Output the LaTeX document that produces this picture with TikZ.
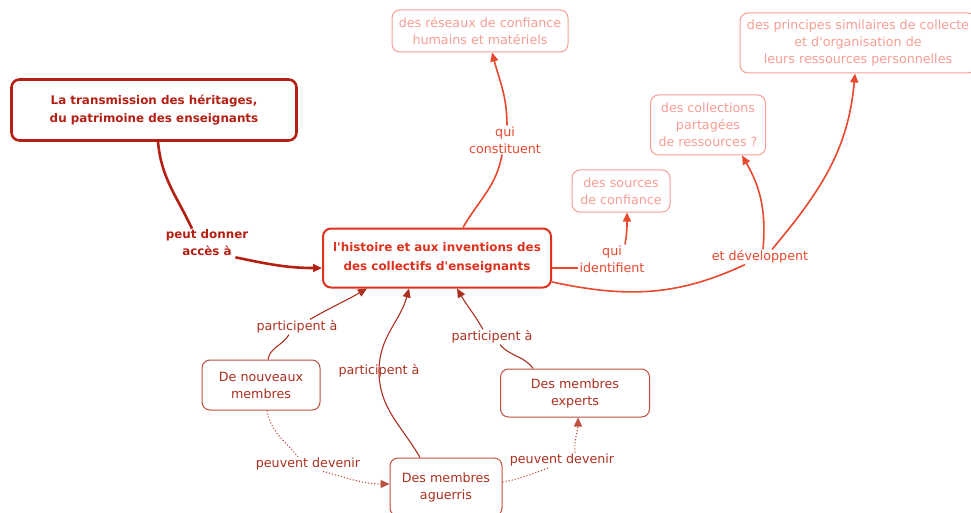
\documentclass[tikz,border=0pt]{standalone}
\usepackage{fontspec}
\setmainfont{DejaVu Sans}
\usetikzlibrary{arrows.meta}
\definecolor{heritred}{RGB}{180,32,20}
\definecolor{histred}{RGB}{222,50,30}
\definecolor{lightred}{RGB}{246,158,148}
\definecolor{linkred}{RGB}{232,72,45}
\definecolor{membred}{RGB}{172,48,32}
\definecolor{membline}{RGB}{190,78,62}
\begin{document}
\begin{tikzpicture}[x=1pt,y=-1pt,every node/.style={align=center,font=\fontsize{12.7}{17}\selectfont},
	concept/.style={draw,rounded corners=8pt,fill=white,inner sep=2pt},
	heritage/.style={concept,draw=heritred,text=heritred,line width=2.6pt,font=\fontsize{11.9}{18}\selectfont\bfseries},
	history/.style={concept,draw=histred,text=histred,line width=2pt,font=\fontsize{11.9}{19}\selectfont\bfseries},
	faint/.style={concept,draw=lightred,text=lightred,line width=1pt},
	member/.style={concept,draw=membline,text=membred,line width=1pt},
	label/.style={inner sep=1pt},
	tip/.style={-{Triangle[length=9pt,width=8pt]}},
	heritlink/.style={heritred,line width=2.6pt},
	uplink/.style={linkred,line width=1.6pt},
	memblink/.style={membred,line width=1.1pt},
	becomes/.style={membline,line width=1.1pt,dotted}]
	\useasboundingbox (0,0) rectangle (971,513);

	\node[heritage,minimum width=285pt,minimum height=61pt] at (154,110) (trans) {La transmission des héritages,\\du patrimoine des enseignants};
	\node[history,minimum width=228pt,minimum height=59pt] at (437,258) (hist) {l\textquotesingle histoire et aux inventions des\\des collectifs d\textquotesingle enseignants};
	\node[faint,minimum width=176pt,minimum height=42pt] at (480,31) (reseaux) {des réseaux de confiance\\humains et matériels};
	\node[faint,minimum width=98pt,minimum height=42pt] at (621,191) (sources) {des sources\\de confiance};
	\node[faint,minimum width=115pt,minimum height=60pt] at (708,125) (collec) {des collections\\partagées\\de ressources ?};
	\node[faint,minimum width=236pt,minimum height=60pt] at (858,43) (principes) {des principes similaires de collecte\\et d\textquotesingle organisation de\\leurs ressources personnelles};
	\node[member,minimum width=118pt,minimum height=50pt] at (261,385) (nouveaux) {De nouveaux\\membres};
	\node[member,minimum width=112pt,minimum height=58pt] at (446,487) (aguerris) {Des membres\\aguerris};
	\node[member,minimum width=149pt,minimum height=48pt] at (575,393) (experts) {Des membres\\experts};

	\node[label,text=heritred,font=\fontsize{11.9}{17}\selectfont\bfseries] at (207,243) (ldonner) {peut donner\\accès à};
	\node[label,text=linkred] at (505,140) (lconstit) {qui\\constituent};
	\node[label,text=linkred] at (612,259) (lident) {qui\\identifient};
	\node[label,text=linkred] at (760,257) (ldevel) {et développent};
	\node[label,text=membred] at (297,327) (lpart1) {participent à};
	\node[label,text=membred] at (379,371) (lpart2) {participent à};
	\node[label,text=membred] at (492,337) (lpart3) {participent à};
	\node[label,text=membred] at (308,464) (ldevenir1) {peuvent devenir};
	\node[label,text=membred] at (562,460) (ldevenir2) {peuvent devenir};

	\draw[heritlink]	([xshift=4pt]trans.south) to[out=-85,in=115] ([xshift=-15pt]ldonner.north);
	\draw[heritlink,tip]	([xshift=-14pt]ldonner.south east) to[out=-12,in=180] ([yshift=-10pt]hist.west);

	\draw[uplink]		([xshift=26pt]hist.north) to[out=60,in=-100] ([xshift=-3pt]lconstit.south);
	\draw[uplink,tip]	([xshift=2pt]lconstit.north) to[out=90,in=-75] ([xshift=12pt]reseaux.south);
	\draw[uplink]		([yshift=-10pt]hist.east) -- ([yshift=-9pt]lident.west);
	\draw[uplink,tip]	([xshift=13pt]lident.north) to[out=80,in=-90] ([xshift=6pt]sources.south);
	\draw[uplink]		([yshift=-24pt]hist.east) to[out=-12,in=205] ([xshift=-15pt]ldevel.south);
	\draw[uplink,tip]	([xshift=3pt]ldevel.north) to[out=85,in=-60] ([xshift=34pt]collec.south);
	\draw[uplink,tip]	([xshift=12pt]ldevel.north) to[out=50,in=-95] ([xshift=-3pt]principes.south);

	\draw[memblink]		([xshift=7pt]nouveaux.north) to[out=80,in=-120] ([xshift=-8pt]lpart1.south);
	\draw[memblink,tip]	([xshift=13pt]lpart1.north) to[out=30,in=-150] ([xshift=-70pt]hist.south);
	\draw[memblink,tip]	([xshift=-26pt]aguerris.north) to[out=120,in=-90] (lpart2.center) to[out=90,in=-105] ([xshift=-28pt]hist.south);
	\draw[memblink]		([xshift=-42pt]experts.north) to[out=125,in=-50] ([xshift=8pt]lpart3.south);
	\draw[memblink,tip]	([xshift=-9pt]lpart3.north) to[out=120,in=-60] ([xshift=20pt]hist.south);

	\draw[becomes]		([xshift=6pt]nouveaux.south) to[out=-80,in=130] ([xshift=-10pt]ldevenir1.north);
	\draw[becomes,tip]	([xshift=15pt]ldevenir1.south) to[out=-15,in=180] ([yshift=3pt]aguerris.west);
	\draw[becomes]		([yshift=5pt]aguerris.east) to[out=10,in=-160] ([xshift=-12pt]ldevenir2.south);
	\draw[becomes,tip]	([xshift=13pt]ldevenir2.north) to[out=95,in=-90] ([xshift=3pt]experts.south);
\end{tikzpicture}
\end{document}
